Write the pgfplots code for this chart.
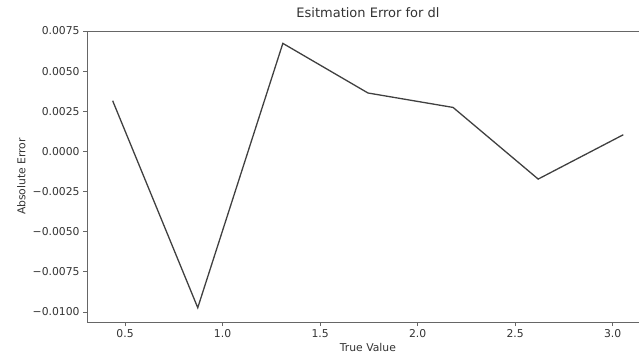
\documentclass[border=0pt]{standalone}
\usepackage{fontspec}
\setmainfont{DejaVu Sans}
\usepackage{pgfplots}
\pgfplotsset{compat=1.18}
\begin{document}
\begin{tikzpicture}
\useasboundingbox (0,0) rectangle (639pt,353pt);
\begin{axis}[
  at={(87.1pt,31pt)}, anchor=south west,
  scale only axis, width=561.7pt, height=291pt,
  xmin=0.3054, xmax=3.1852, ymin=-0.01062, ymax=0.0075,
  xtick={0.5,1.0,1.5,2.0,2.5,3.0},
  xticklabels={0.5,1.0,1.5,2.0,2.5,3.0},
  ytick={-0.01,-0.0075,-0.005,-0.0025,0,0.0025,0.005,0.0075},
  yticklabels={−0.0100,−0.0075,−0.0050,−0.0025,0.0000,0.0025,0.0050,0.0075},
  scaled y ticks=false,
  tick align=outside, xtick pos=bottom, ytick pos=left,
  major tick length=4pt,
  every tick/.style={black!60, line width=0.9pt},
  axis line style={black!60, line width=0.9pt},
  tick label style={font=\fontsize{10.8}{13}\selectfont, text=black!80},
  xlabel={True Value},
  ylabel={Absolute Error},
  title={Esitmation Error for dl},
  xlabel style={at={(axis description cs:0.5,-0.1010)}, anchor=base, inner sep=0pt, font=\fontsize{10.8}{13}\selectfont, text=black!80},
  ylabel style={at={(axis description cs:-0.1097,0.5)}, anchor=base, font=\fontsize{10.8}{13}\selectfont, text=black!80},
  title style={at={(axis description cs:0.5,1.0241)}, anchor=base, font=\fontsize{13}{15}\selectfont, text=black!80},
]
\addplot[black!75, line width=1.3pt, mark=none] coordinates {
  (0.4363, 0.00316)
  (0.8727, -0.00973)
  (1.3090, 0.00673)
  (1.7453, 0.00364)
  (2.1817, 0.00274)
  (2.6180, -0.00172)
  (3.0543, 0.00104)
};
\end{axis}
\end{tikzpicture}
\end{document}
